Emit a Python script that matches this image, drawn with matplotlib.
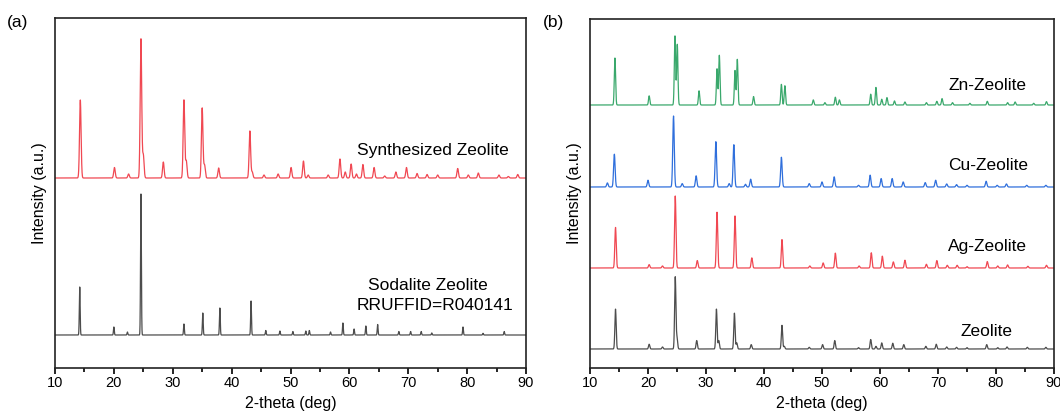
import numpy as np
import matplotlib.pyplot as plt

plt.rcParams['font.family'] = ['Liberation Sans', 'DejaVu Sans']

# ---- panel (a): peak tables (2theta, height) ----
synth_pos = [14.3, 20.1, 22.5, 24.6, 25.0, 28.4, 31.9, 32.3, 35.0, 35.4, 37.8, 43.1, 43.5,
             45.5, 47.9, 50.1, 52.2, 53.0, 56.4, 58.4, 59.3, 60.3, 61.2, 62.3, 64.2, 66.0,
             67.9, 69.7, 71.5, 73.2, 75.0, 78.4, 80.2, 81.9, 85.4, 87.0, 88.6]
synth_h = [78, 10.5, 4, 139, 23, 16, 78, 17, 70, 13, 10, 47, 6,
           3, 4, 10.5, 17, 3, 3, 19, 6, 14, 4, 13.5, 10.5, 2,
           6, 10.5, 4.5, 3.5, 3, 9.5, 3, 5, 3, 1.5, 3.5]

soda_pos = [14.2, 20.0, 22.3, 24.6, 31.9, 35.1, 38.0, 43.3, 45.8, 48.2, 50.4, 52.6, 53.2,
            56.8, 58.9, 60.8, 62.8, 64.8, 68.4, 70.4, 72.2, 74.0, 79.3, 82.7, 86.3]
soda_h = [48, 8, 3, 141, 11, 22, 27, 34, 4.5, 4, 3.5, 4, 4.5,
          3, 12, 6, 9, 10.5, 3.5, 3.5, 3.5, 2, 8, 1.7, 3.5]

# ---- panel (b): peak tables ----
zn_pos = [14.3, 20.2, 24.65, 25.05, 28.8, 31.9, 32.3, 35.0, 35.4, 38.2, 43.0, 43.6, 48.5,
          50.5, 52.3, 53.0, 58.4, 59.3, 60.3, 61.2, 62.5, 64.3, 68.0, 69.8, 70.7, 72.5,
          75.5, 78.5, 82.0, 83.3, 86.5, 88.7]
zn_h = [139, 27, 205, 180, 42, 107, 147, 102, 135, 25, 61, 57, 15,
        7, 23, 15, 32, 52, 17, 22, 12, 9, 7, 11, 19, 7,
        5, 11, 7, 9, 5, 10]

cu_pos = [13.0, 14.2, 20.0, 24.4, 25.9, 28.3, 31.7, 34.0, 34.8, 36.8, 37.7, 43.0, 47.8,
          50.0, 52.1, 56.3, 58.3, 60.2, 62.1, 64.0, 67.8, 69.6, 71.5, 73.2, 75.0, 78.3,
          80.2, 81.8, 85.3, 88.6]
cu_h = [12, 97, 20, 210, 10, 33, 134, 10, 125, 8, 23, 88, 10,
        15, 30, 5, 35, 25, 25, 15, 13, 20, 9, 7, 5, 17,
        5, 9, 5, 5]

ag_pos = [14.4, 20.2, 22.5, 24.7, 28.5, 31.9, 35.0, 37.9, 43.1, 47.9, 50.2, 52.3, 56.4,
          58.5, 60.4, 62.3, 64.3, 68.0, 69.8, 71.6, 73.3, 75.0, 78.5, 80.3, 82.0, 85.5, 88.7]
ag_h = [120, 10, 6, 213, 22, 165, 154, 30, 84, 6, 15, 44, 6,
        45, 35, 18, 23, 11, 22, 8, 8, 4, 19, 6, 9, 5, 8]

zeo_pos = [14.4, 20.2, 22.5, 24.7, 25.0, 28.4, 31.8, 32.2, 34.9, 35.3, 37.8, 43.1, 43.5,
           47.8, 50.1, 52.2, 56.3, 58.4, 59.3, 60.3, 62.2, 64.1, 67.9, 69.7, 71.5, 73.2,
           75.0, 78.4, 80.3, 81.9, 85.4, 88.6]
zeo_h = [118, 14, 6, 213, 33, 25, 118, 25, 106, 18, 13, 70, 8,
         5, 13, 25, 4, 28, 8, 18, 17, 13, 8, 14, 6, 5,
         4, 13, 4, 6, 5, 5]

two_theta = np.linspace(10, 90, 4001)


# peak table -> diffractogram line (gaussian profile per peak)
def pattern(pos, h, width):
    y = np.zeros_like(two_theta)
    for p, a in zip(pos, h):
        y += a * np.exp(-0.5 * ((two_theta - p) / width) ** 2)
    return y


fig = plt.figure(figsize=(10.6, 4.2), dpi=100)
ax1 = fig.add_axes([55 / 1060, 52 / 420, 471 / 1060, 350 / 420])
ax2 = fig.add_axes([590 / 1060, 52 / 420, 464 / 1060, 349 / 420])

ax1.plot(two_theta, 190 + pattern(synth_pos, synth_h, 0.13), color='#f04852', lw=0.9)
ax1.plot(two_theta, 33 + pattern(soda_pos, soda_h, 0.07), color='#4d4d4d', lw=0.9)
ax1.set_ylim(0, 350)
ax1.text(74.2, 217, 'Synthesized Zeolite', ha='center', va='center', fontsize=12.5)
ax1.text(73.3, 83, 'Sodalite Zeolite', ha='center', va='center', fontsize=12.5)
ax1.text(74.5, 62, 'RRUFFID=R040141', ha='center', va='center', fontsize=12.5)

ax2.plot(two_theta, 263 + pattern(zn_pos, zn_h, 0.11) * 0.338, color='#3aa86c', lw=0.9)
ax2.plot(two_theta, 181 + pattern(cu_pos, cu_h, 0.13) * 0.338, color='#2f6fdc', lw=0.9)
ax2.plot(two_theta, 100 + pattern(ag_pos, ag_h, 0.12) * 0.338, color='#f04852', lw=0.9)
ax2.plot(two_theta, 19 + pattern(zeo_pos, zeo_h, 0.11) * 0.338, color='#4d4d4d', lw=0.9)
ax2.set_ylim(0, 349)
ax2.text(78.5, 282, 'Zn-Zeolite', ha='center', va='center', fontsize=12.5)
ax2.text(78.7, 202, 'Cu-Zeolite', ha='center', va='center', fontsize=12.5)
ax2.text(78.5, 121, 'Ag-Zeolite', ha='center', va='center', fontsize=12.5)
ax2.text(78.3, 37, 'Zeolite', ha='center', va='center', fontsize=12.5)

for ax in (ax1, ax2):
    ax.set_xlim(10, 90)
    ax.set_xticks(range(10, 91, 10))
    ax.set_xticks(range(15, 90, 10), minor=True)
    ax.set_yticks([])
    ax.tick_params(axis='x', which='major', direction='out', length=4, width=1.2,
                   labelsize=10.5, pad=2)
    ax.tick_params(axis='x', which='minor', direction='out', length=3, width=1.2)
    for s in ax.spines.values():
        s.set_linewidth(1.2)
        s.set_color('#222222')
    ax.set_xlabel('2-theta (deg)', fontsize=11.5, labelpad=4)
    ax.set_ylabel('Intensity (a.u.)', fontsize=11.5, labelpad=6)

fig.text(18 / 1060, 1 - 22 / 420, '(a)', ha='center', va='center', fontsize=12.5)
fig.text(553 / 1060, 1 - 22 / 420, '(b)', ha='center', va='center', fontsize=12.5)

fig.savefig('out.png', dpi=100)
